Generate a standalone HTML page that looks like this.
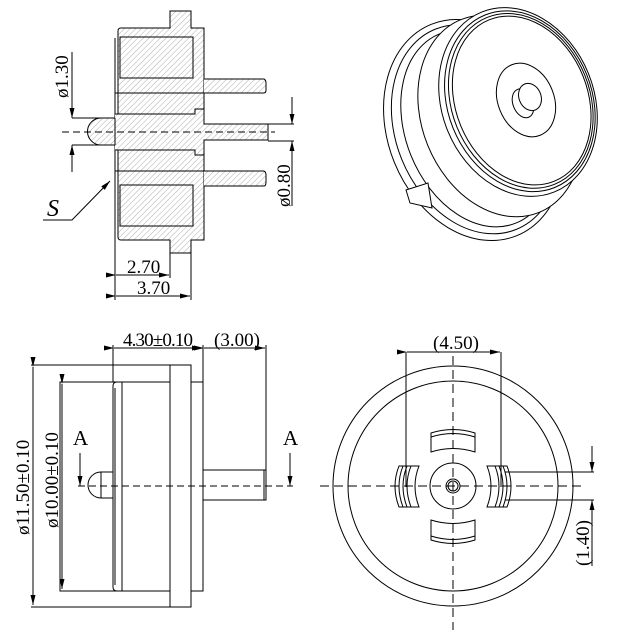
<!DOCTYPE html>
<html><head><meta charset="utf-8"><style>
html,body{margin:0;padding:0;background:#fff}
svg{display:block}
text{font-family:"Liberation Serif",serif;fill:#000}
</style></head><body>
<svg width="619" height="631" viewBox="0 0 619 631" xmlns="http://www.w3.org/2000/svg">
<defs>
<pattern id="h" patternUnits="userSpaceOnUse" width="4" height="4" patternTransform="rotate(45)">
<rect width="4" height="4" fill="#fff"/><line x1="0" y1="0" x2="0" y2="4" stroke="#9a9a9a" stroke-width="0.8"/>
</pattern>
<marker id="a" markerWidth="10" markerHeight="6" refX="10" refY="3" orient="auto" markerUnits="userSpaceOnUse"><path d="M0,0.5 L10,3 L0,5.5 z" fill="#000"/></marker>
</defs>
<g stroke="#000" stroke-width="1" fill="none">
<!-- TOP LEFT section -->
<path d="M118,31 Q118,28 121,28 L170,28 L170,11 L191,11 L191,28 L204,28 L204,240 L191,240 L191,253 L170,253 L170,240 L121,240 Q118,240 118,237 Z" fill="url(#h)"/>
<rect x="120" y="37" width="73" height="41" fill="url(#h)"/>
<rect x="120" y="185" width="73" height="41" fill="url(#h)"/>
<path d="M115,38 L115,229" />
<path d="M115,93 L204,93 M115,171 L204,171"/>
<path d="M204,79 L264,79 Q266,80 266,83 L266,90 Q266,93 264,93 L204,93" fill="url(#h)"/>
<path d="M204,171 L264,171 Q266,172 266,175 L266,182 Q266,186 264,186 L204,186" fill="url(#h)"/>
<path d="M115,114 L195,114 L195,109 L204,109 L204,124 L268,124 L268,140 L204,140 L204,155 L195,155 L195,150 L115,150" fill="url(#h)"/>
<path d="M115,118 L101,118 A13,13 0 0 0 101,145 L115,145" fill="url(#h)"/>
<line x1="115" y1="118" x2="115" y2="145"/>
<line x1="62" y1="132" x2="275" y2="132" stroke-dasharray="7,4"/>
<line x1="72" y1="52" x2="72" y2="118" marker-end="url(#a)"/>
<line x1="72" y1="118" x2="112" y2="118"/>
<line x1="72" y1="145" x2="112" y2="145"/>
<line x1="72" y1="172" x2="72" y2="145" marker-end="url(#a)"/>
<line x1="292" y1="97" x2="292" y2="124" marker-end="url(#a)"/>
<line x1="268" y1="124" x2="294" y2="124"/>
<line x1="268" y1="141" x2="294" y2="141"/>
<line x1="292" y1="206" x2="292" y2="141" marker-end="url(#a)"/>
<path d="M43,220 L72,220 L110,181" marker-end="url(#a)"/>
<line x1="115" y1="229" x2="115" y2="300"/>
<line x1="170" y1="253" x2="170" y2="278"/>
<line x1="191" y1="253" x2="191" y2="300"/>
<line x1="116" y1="275" x2="169" y2="275" marker-start="url(#a)" marker-end="url(#a)"/>
<line x1="116" y1="296" x2="190" y2="296" marker-start="url(#a)" marker-end="url(#a)"/>

<!-- TOP RIGHT 3D -->
<g transform="rotate(-22 474 130)"><ellipse cx="474" cy="130" rx="86" ry="114" fill="#fff"/><ellipse cx="476" cy="130" rx="80" ry="108"/><ellipse cx="478" cy="130" rx="72" ry="102"/></g>
<path d="M406,190 L428,183 L432,208 L410,203 Z" fill="#fff"/>
<g transform="rotate(-22 500 116)"><ellipse cx="500" cy="116" rx="78" ry="104" fill="#fff"/></g>
<g transform="rotate(-22 518 102)">
<ellipse cx="518" cy="102" rx="76" ry="97" fill="#fff"/>
<ellipse cx="520" cy="102" rx="72" ry="93"/>
<ellipse cx="521" cy="102" rx="69" ry="90"/>
<ellipse cx="522" cy="102" rx="66" ry="87"/>
</g>
<g transform="rotate(-22 526 100)">
<ellipse cx="526" cy="100" rx="28" ry="38"/>
<ellipse cx="522" cy="102" rx="10" ry="15"/>
</g>
<ellipse cx="530" cy="97" rx="11" ry="14" fill="#fff" transform="rotate(-22 530 97)"/>

<!-- BOTTOM LEFT -->
<rect x="60" y="382" width="110" height="209"/>
<path d="M113,386 Q113,382 117,382 L122,382 L122,591 L117,591 Q113,591 113,587 Z"/>
<path d="M115,388 L115,585"/>
<rect x="170" y="365" width="21" height="242" fill="#fff"/>
<rect x="191" y="382" width="12" height="209"/>
<rect x="203" y="470" width="63" height="30"/>
<line x1="264" y1="470" x2="264" y2="500"/>
<path d="M113,472 L101,472 A13,13 0 0 0 101,498 L113,498"/>
<line x1="101" y1="472" x2="101" y2="498"/>
<line x1="78" y1="486" x2="293" y2="486" stroke-dasharray="7,4"/>
<line x1="31" y1="365" x2="170" y2="365"/>
<line x1="31" y1="607" x2="170" y2="607"/>
<line x1="33" y1="367" x2="33" y2="605" marker-start="url(#a)" marker-end="url(#a)"/>
<line x1="62" y1="384" x2="62" y2="589" marker-start="url(#a)" marker-end="url(#a)"/>
<line x1="113" y1="345" x2="113" y2="382"/>
<line x1="203" y1="345" x2="203" y2="382"/>
<line x1="266" y1="345" x2="266" y2="470"/>
<line x1="114" y1="348" x2="202" y2="348" marker-start="url(#a)" marker-end="url(#a)"/>
<line x1="204" y1="348" x2="265" y2="348" marker-start="url(#a)" marker-end="url(#a)"/>
<line x1="80" y1="453" x2="80" y2="486" marker-end="url(#a)"/>
<line x1="290" y1="453" x2="290" y2="486" marker-end="url(#a)"/>

<!-- BOTTOM RIGHT -->
<circle cx="453" cy="486" r="120"/>
<circle cx="453" cy="486" r="105"/>
<circle cx="453" cy="486" r="23"/>
<circle cx="453" cy="486" r="7"/>
<circle cx="453" cy="486" r="5"/>
<path d="M431,433 Q453,426 475,433 L475,452 Q453,445 431,452 Z"/>
<path d="M431,433 L431,437 Q453,430 475,437 L475,433"/>
<path d="M431,520 Q453,527 475,520 L475,540 Q453,547 431,540 Z"/>
<path d="M431,540 L431,536 Q453,543 475,536 L475,540"/>
<path d="M399,466 L419,466 Q411,486 419,507 L399,507 Q391,486 399,466 Z"/>
<path d="M403,466 Q395,486 403,507 M407,466 Q399,486 407,507 M411,466 Q403,486 411,507"/>
<path d="M507,466 L487,466 Q495,486 487,507 L507,507 Q515,486 507,466 Z"/>
<path d="M503,466 Q511,486 503,507 M499,466 Q507,486 499,507 M495,466 Q503,486 495,507"/>
<line x1="320" y1="486" x2="585" y2="486" stroke-dasharray="9,5"/>
<line x1="453" y1="356" x2="453" y2="630" stroke-dasharray="9,5"/>
<line x1="406" y1="352" x2="406" y2="487"/>
<line x1="501" y1="352" x2="501" y2="487"/>
<line x1="407" y1="352" x2="500" y2="352" marker-start="url(#a)" marker-end="url(#a)"/>
<line x1="505" y1="472" x2="594" y2="472"/>
<line x1="505" y1="500" x2="594" y2="500"/>
<line x1="592" y1="446" x2="592" y2="472" marker-end="url(#a)"/>
<line x1="592" y1="566" x2="592" y2="500" marker-end="url(#a)"/>
</g>
<text x="0" y="0" font-size="19" transform="translate(68,98) rotate(-90)">ø1.30</text>
<text x="0" y="0" font-size="19" transform="translate(290,207) rotate(-90)">ø0.80</text>
<text x="47" y="216" font-size="24" font-style="italic">S</text>
<text x="127" y="273" font-size="19">2.70</text>
<text x="137" y="294" font-size="19">3.70</text>
<text x="123" y="346" font-size="19" textLength="70">4.30±0.10</text>
<text x="214" y="346" font-size="19">(3.00)</text>
<text x="0" y="0" font-size="19" transform="translate(29,535) rotate(-90)">ø11.50±0.10</text>
<text x="0" y="0" font-size="19" transform="translate(58,528) rotate(-90)">ø10.00±0.10</text>
<text x="73" y="445" font-size="21">A</text>
<text x="283" y="445" font-size="21">A</text>
<text x="433" y="349" font-size="19">(4.50)</text>
<text x="0" y="0" font-size="19" transform="translate(589,566) rotate(-90)">(1.40)</text>
</svg>
</body></html>
